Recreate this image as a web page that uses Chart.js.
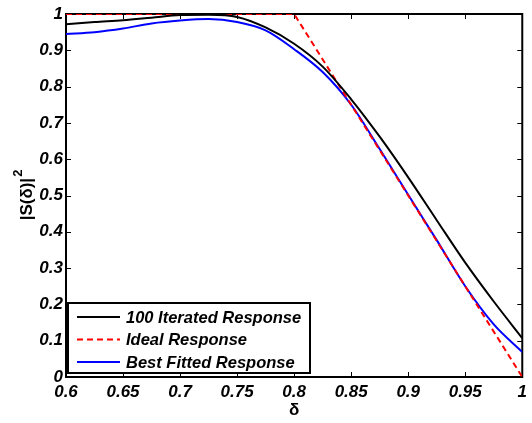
<!DOCTYPE html>
<html>
<head>
<meta charset="utf-8">
<script src="https://cdn.jsdelivr.net/npm/chart.js@4/dist/chart.umd.min.js"></script>
<style>
  html, body { margin: 0; padding: 0; background: #fff; }
  #wrap { width: 532px; height: 423px; }
</style>
</head>
<body>
<div id="wrap"><canvas id="respChart"></canvas></div>
<script>
// delta samples for the simulated curves
const delta = [0.6, 0.625, 0.65, 0.675, 0.7, 0.725, 0.75, 0.775, 0.8, 0.825, 0.85, 0.875, 0.9, 0.925, 0.95, 0.975, 1.0];
const iterated = [0.972, 0.978, 0.983, 0.990, 0.997, 0.998, 0.992, 0.963, 0.918, 0.855, 0.765, 0.662, 0.550, 0.432, 0.315, 0.208, 0.107];
const fitted = [0.945, 0.950, 0.960, 0.974, 0.982, 0.986, 0.978, 0.955, 0.903, 0.840, 0.750, 0.628, 0.502, 0.377, 0.250, 0.145, 0.069];

// ideal response corners
const idealDelta = [0.6, 0.8, 1.0];
const idealValues = [1, 1, 0];

const seriesNames = ["100 Iterated Response", "Ideal Response", "Best Fitted Response"];
const xTicks = [0.6, 0.65, 0.7, 0.75, 0.8, 0.85, 0.9, 0.95, 1];
const yTicks = [0, 0.1, 0.2, 0.3, 0.4, 0.5, 0.6, 0.7, 0.8, 0.9, 1];

const pts = (xs, ys) => xs.map((x, i) => ({ x: x, y: ys[i] }));
const tickFont = { family: "Liberation Sans", size: 17, weight: "bold", style: "italic" };

// MATLAB-like frame and inward ticks (under the lines)
const matlabFrame = {
  id: "matlabFrame",
  beforeDatasetsDraw(chart) {
    const ctx = chart.ctx;
    const a = chart.chartArea;
    const xs = chart.scales.x, ys = chart.scales.y;
    ctx.save();
    ctx.strokeStyle = "#000";
    ctx.lineWidth = 1;
    ctx.beginPath();
    xTicks.forEach(v => {
      const px = Math.round(xs.getPixelForValue(v)) + 0.5;
      ctx.moveTo(px, a.bottom); ctx.lineTo(px, a.bottom - 5);
      ctx.moveTo(px, a.top); ctx.lineTo(px, a.top + 5);
    });
    yTicks.forEach(v => {
      const py = Math.round(ys.getPixelForValue(v)) + 0.5;
      ctx.moveTo(a.left, py); ctx.lineTo(a.left + 5, py);
      ctx.moveTo(a.right, py); ctx.lineTo(a.right - 5, py);
    });
    ctx.stroke();
    ctx.lineWidth = 2;
    ctx.strokeRect(a.left, a.top, a.right - a.left, a.bottom - a.top);

    // y title: |S(δ)| with raised 2
    ctx.translate(25, (a.top + a.bottom) / 2);
    ctx.rotate(-Math.PI / 2);
    ctx.fillStyle = "#000";
    ctx.textBaseline = "middle";
    ctx.font = "bold 17px 'Liberation Sans'";
    const main = "|S(δ)|";
    const w = ctx.measureText(main).width;
    ctx.font = "bold 13px 'Liberation Sans'";
    const w2 = ctx.measureText("2").width;
    const x0 = -(w + w2) / 2;
    ctx.font = "bold 17px 'Liberation Sans'";
    ctx.fillText(main, x0, 2);
    ctx.font = "bold 13px 'Liberation Sans'";
    ctx.fillText("2", x0 + w + 1, -7);
    ctx.restore();
  },
  afterDraw(chart) {
    const ctx = chart.ctx;
    ctx.save();
    // legend box
    const bx = 68, by = 303, bw = 242, bh = 70;
    ctx.fillStyle = "#fff";
    ctx.fillRect(bx, by, bw, bh);
    ctx.strokeStyle = "#000";
    ctx.lineWidth = 2;
    ctx.strokeRect(bx, by, bw, bh);
    ctx.font = "italic bold 16.5px 'Liberation Sans'";
    ctx.textBaseline = "middle";
    chart.data.datasets.forEach((ds, i) => {
      const y = 317 + i * 22.5;
      ctx.strokeStyle = ds.borderColor;
      ctx.lineWidth = 2;
      ctx.setLineDash(ds.borderDash || []);
      ctx.beginPath();
      ctx.moveTo(77, y); ctx.lineTo(120, y);
      ctx.stroke();
      ctx.setLineDash([]);
      ctx.fillStyle = "#000";
      ctx.fillText(ds.label, 126, y + 1);
    });
    ctx.restore();
  }
};

new Chart(document.getElementById("respChart"), {
  type: "line",
  data: {
    datasets: [
      {
        label: seriesNames[0],
        data: pts(delta, iterated),
        borderColor: "#000000",
        borderWidth: 2,
        pointRadius: 0,
        cubicInterpolationMode: "monotone",
      },
      {
        label: seriesNames[1],
        data: pts(idealDelta, idealValues),
        borderColor: "#ff0000",
        borderWidth: 2,
        borderDash: [6, 4],
        pointRadius: 0,
        tension: 0,
      },
      {
        label: seriesNames[2],
        data: pts(delta, fitted),
        borderColor: "#0000ff",
        borderWidth: 2,
        pointRadius: 0,
        cubicInterpolationMode: "monotone",
      },
    ],
  },
  options: {
    responsive: true,
    maintainAspectRatio: false,
    animation: false,
    layout: { padding: { left: 0, right: 5, top: 14, bottom: 0 } },
    plugins: {
      legend: { display: false },
      tooltip: { enabled: false },
    },
    scales: {
      x: {
        type: "linear",
        min: 0.6,
        max: 1,
        afterBuildTicks(scale) { scale.ticks = xTicks.map(v => ({ value: v })); },
        afterFit(scale) { scale.height = 46; },
        grid: { display: false, drawTicks: false },
        border: { display: false },
        ticks: {
          color: "#000",
          font: tickFont,
          padding: 5,
          maxRotation: 0,
          autoSkip: false,
          callback: v => String(Number(v.toFixed(2))),
        },
        title: {
          display: true,
          text: "δ",
          color: "#000",
          font: { family: "Liberation Sans", size: 17, weight: "bold" },
          padding: { top: 0, bottom: 2 },
        },
      },
      y: {
        min: 0,
        max: 1,
        afterBuildTicks(scale) { scale.ticks = yTicks.map(v => ({ value: v })); },
        afterFit(scale) { scale.width = 66; },
        grid: { display: false, drawTicks: false },
        border: { display: false },
        ticks: {
          color: "#000",
          font: tickFont,
          padding: 3,
          autoSkip: false,
          callback: v => String(Number(v.toFixed(1))),
        },
        title: { display: false },
      },
    },
  },
  plugins: [matlabFrame],
});
</script>
</body>
</html>
